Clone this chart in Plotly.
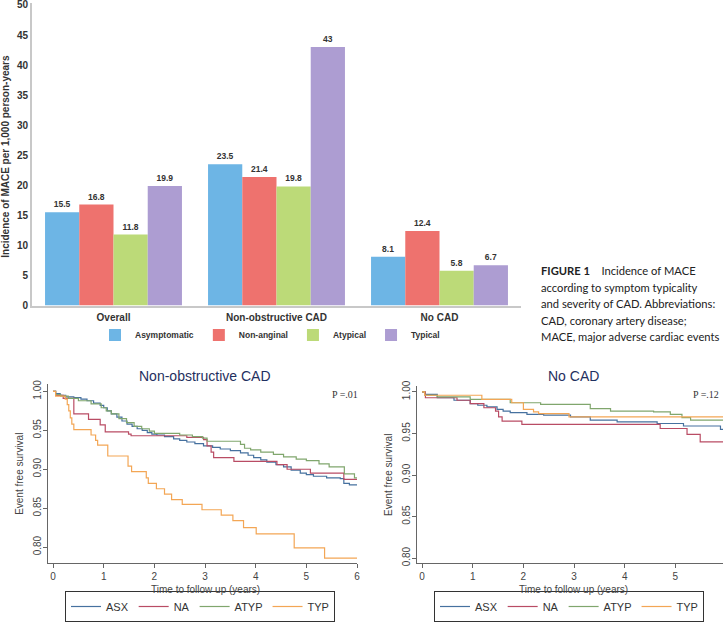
import plotly.graph_objects as go

W, H = 723, 622

# ---------------- Bar chart data ----------------
categories = ["Overall", "Non-obstructive CAD", "No CAD"]
symptom_groups = ["Asymptomatic", "Non-anginal", "Atypical", "Typical"]
asymptomatic = [15.5, 23.5, 8.1]
non_anginal = [16.8, 21.4, 12.4]
atypical = [11.8, 19.8, 5.8]
typical = [19.9, 43, 6.7]
bar_colors = ["#6db5e5", "#ee726e", "#bcda78", "#ad9dd2"]
y_ticks_bar = [0, 5, 10, 15, 20, 25, 30, 35, 40, 45, 50]

# ---------------- Kaplan-Meier data: Non-obstructive CAD ----------------
km_labels = ["ASX", "NA", "ATYP", "TYP"]
km_colors = ["#46719f", "#b94c64", "#80a66d", "#f3a655"]

nonobs_asx_t = [0, 0.05, 0.14, 0.25, 0.41, 0.55, 0.67, 0.8, 0.93, 1.0, 1.07, 1.15, 1.26, 1.36,
                1.46, 1.56, 1.66, 1.76, 1.86, 1.95, 2.05, 2.2, 2.38, 2.5, 2.64, 2.8, 2.97, 3.15,
                3.3, 3.5, 3.7, 3.85, 3.96, 4.1, 4.22, 4.4, 4.55, 4.7, 4.88, 5.0, 5.14, 5.4, 5.67,
                5.74, 5.85, 6.0]
nonobs_asx_s = [1.0, 0.997, 0.995, 0.993, 0.992, 0.990, 0.988, 0.985, 0.982, 0.979, 0.975, 0.971,
                0.967, 0.962, 0.958, 0.955, 0.952, 0.950, 0.947, 0.945, 0.944, 0.942, 0.939, 0.937,
                0.935, 0.933, 0.930, 0.928, 0.926, 0.924, 0.921, 0.918, 0.915, 0.912, 0.909, 0.906,
                0.903, 0.899, 0.895, 0.893, 0.891, 0.889, 0.888, 0.882, 0.880, 0.880]

nonobs_na_t = [0, 0.05, 0.2, 0.41, 0.70, 0.93, 1.03, 1.49, 1.54, 2.64, 2.97, 3.04, 3.12, 3.17,
               3.57, 4.42, 4.62, 5.08, 5.74, 6.0]
nonobs_na_s = [1.0, 0.995, 0.991, 0.971, 0.964, 0.957, 0.948, 0.945, 0.943, 0.941, 0.938, 0.930,
               0.922, 0.915, 0.910, 0.906, 0.900, 0.895, 0.887, 0.887]

nonobs_atyp_t = [0, 0.05, 0.15, 0.3, 0.5, 0.75, 0.95, 1.05, 1.15, 1.3, 1.45, 1.6, 1.75, 1.9, 2.0,
                 2.5, 2.75, 2.95, 3.04, 3.7, 3.78, 3.9, 4.1, 4.35, 4.55, 4.8, 5.0, 5.25, 5.45,
                 5.75, 5.95, 6.0]
nonobs_atyp_s = [1.0, 0.996, 0.994, 0.991, 0.988, 0.984, 0.979, 0.975, 0.971, 0.965, 0.960, 0.955,
                 0.952, 0.949, 0.946, 0.944, 0.942, 0.940, 0.936, 0.932, 0.927, 0.925, 0.922,
                 0.919, 0.916, 0.913, 0.911, 0.907, 0.903, 0.894, 0.889, 0.889]

nonobs_typ_t = [0, 0.05, 0.24, 0.28, 0.31, 0.34, 0.37, 0.41, 0.75, 0.84, 0.88, 1.08, 1.48, 1.55,
                1.84, 1.88, 2.04, 2.2, 2.34, 2.55, 2.94, 3.32, 3.55, 3.76, 4.01, 4.76, 5.36, 6.0]
nonobs_typ_s = [1.0, 0.994, 0.990, 0.983, 0.975, 0.966, 0.958, 0.951, 0.944, 0.937, 0.931, 0.917,
                0.904, 0.897, 0.889, 0.882, 0.875, 0.868, 0.861, 0.855, 0.848, 0.841, 0.834,
                0.825, 0.817, 0.799, 0.786, 0.786]

# ---------------- Kaplan-Meier data: No CAD ----------------
nocad_asx_t = [0, 0.05, 0.3, 0.63, 0.95, 1.1, 1.28, 1.48, 1.6, 1.74, 2.07, 2.4, 2.93, 3.32, 3.85,
               4.64, 5.16, 5.89, 6.0]
nocad_asx_s = [1.0, 0.997, 0.993, 0.990, 0.986, 0.984, 0.982, 0.979, 0.977, 0.975, 0.973, 0.972,
               0.970, 0.966, 0.964, 0.962, 0.959, 0.955, 0.955]

nocad_na_t = [0, 0.066, 0.69, 0.95, 1.22, 1.45, 1.51, 1.58, 1.97, 4.70, 5.23, 5.49, 6.0]
nocad_na_s = [1.0, 0.993, 0.990, 0.986, 0.981, 0.977, 0.970, 0.965, 0.961, 0.956, 0.949, 0.940, 0.940]

nocad_atyp_t = [0, 0.05, 0.3, 0.95, 1.74, 2.34, 3.32, 3.72, 4.57, 4.9, 5.13, 5.3, 6.0]
nocad_atyp_s = [1.0, 0.996, 0.994, 0.991, 0.987, 0.985, 0.980, 0.977, 0.976, 0.973, 0.969, 0.966, 0.966]

nocad_typ_t = [0, 0.05, 1.18, 1.77, 2.0, 2.2, 2.3, 2.9, 6.0]
nocad_typ_s = [1.0, 0.996, 0.991, 0.987, 0.979, 0.976, 0.974, 0.970, 0.970]

km_y_ticks = [0.80, 0.85, 0.90, 0.95, 1.00]
km_x_ticks = [0, 1, 2, 3, 4, 5, 6]

caption_lines = [
    "<b>FIGURE 1</b>\u00a0\u00a0\u00a0\u00a0Incidence of MACE",
    "according to symptom typicality",
    "and severity of CAD. Abbreviations:",
    "CAD, coronary artery disease;",
    "MACE, major adverse cardiac events",
]


def px_x(p):
    return p / W


def px_y(p):
    return 1 - p / H


fig = go.Figure()

# ---- bars ----
for name, vals, col in zip(symptom_groups, [asymptomatic, non_anginal, atypical, typical], bar_colors):
    fig.add_trace(go.Bar(
        x=categories, y=vals, name=name, marker=dict(color=col, line=dict(width=0)),
        text=vals, texttemplate="%{y}", textposition="outside", cliponaxis=False,
        textfont=dict(family="Arial", size=8.5, color="#333333", weight="bold"),
        xaxis="x", yaxis="y", legend="legend",
    ))

# ---- KM curves ----
left_series = [(nonobs_asx_t, nonobs_asx_s), (nonobs_na_t, nonobs_na_s),
               (nonobs_atyp_t, nonobs_atyp_s), (nonobs_typ_t, nonobs_typ_s)]
right_series = [(nocad_asx_t, nocad_asx_s), (nocad_na_t, nocad_na_s),
                (nocad_atyp_t, nocad_atyp_s), (nocad_typ_t, nocad_typ_s)]

for (t, s), name, col in zip(left_series, km_labels, km_colors):
    fig.add_trace(go.Scatter(x=t, y=s, mode="lines", name=name,
                             line=dict(color=col, width=1.2, shape="hv"),
                             xaxis="x2", yaxis="y2", legend="legend2"))
for (t, s), name, col in zip(right_series, km_labels, km_colors):
    fig.add_trace(go.Scatter(x=t, y=s, mode="lines", name=name,
                             line=dict(color=col, width=1.2, shape="hv"),
                             xaxis="x3", yaxis="y3", legend="legend3"))

tick_font_km = dict(family="Arial", size=10, color="#444444")
title_font_km = dict(family="Arial", size=10, color="#444444")

km_x_common = dict(tickvals=km_x_ticks, ticks="outside", ticklen=4, tickcolor="#666666",
                   showline=True, linecolor="#666666", linewidth=1, showgrid=False,
                   zeroline=False, tickfont=tick_font_km, automargin=False)
km_y_common = dict(tickvals=km_y_ticks, tickformat=".2f", ticks="outside", ticklen=4,
                   tickcolor="#666666", tickangle=-90, showline=True, linecolor="#666666",
                   linewidth=1, showgrid=False, zeroline=False, tickfont=tick_font_km,
                   automargin=False, ticklabelstandoff=-2,
                   title=dict(text="Event free survival", font=title_font_km, standoff=6))

fig.update_layout(
    width=W, height=H, autosize=False, template="none",
    margin=dict(l=0, r=0, t=0, b=0, pad=0),
    paper_bgcolor="white", plot_bgcolor="white",
    font=dict(family="Arial", color="#333333"),
    barmode="group", bargap=0.16, bargroupgap=0,
    xaxis=dict(domain=[px_x(32), px_x(521)], range=[-0.5, 2.5], showline=True,
               linecolor="#c8c8c8", linewidth=2, ticks="", showgrid=False, zeroline=False,
               tickfont=dict(family="Arial", size=10, color="#333333", weight="bold"),
               automargin=False, anchor="y", ticklabelstandoff=1),
    yaxis=dict(domain=[px_y(306), px_y(3)], range=[0, 50.33], tickvals=y_ticks_bar,
               showline=True, linecolor="#c8c8c8", linewidth=2, ticks="", showgrid=False,
               zeroline=False, tickfont=dict(family="Arial", size=10, color="#333333", weight="bold"),
               automargin=False, anchor="x", ticklabeloverflow="allow"),
    xaxis2=dict(domain=[px_x(48), px_x(357)], range=[-0.1, 6.0], anchor="y2", **km_x_common),
    yaxis2=dict(domain=[px_y(564), px_y(385)], range=[0.7795, 1.009], anchor="x2", **km_y_common),
    xaxis3=dict(domain=[px_x(417), 1.0], range=[-0.1, 5.94], anchor="y3", **km_x_common),
    yaxis3=dict(domain=[px_y(564), px_y(387)], range=[0.794, 1.0067], anchor="x3", **km_y_common),
    legend=dict(orientation="h", x=px_x(270), xanchor="center", y=px_y(335), yanchor="middle",
                font=dict(family="Arial", size=8.5, color="#333333", weight="bold"),
                bgcolor="rgba(0,0,0,0)", itemwidth=30),
    legend2=dict(orientation="h", x=px_x(65), xanchor="left", y=px_y(607), yanchor="middle",
                 font=dict(family="Arial", size=11, color="#333333"), bordercolor="#333333",
                 borderwidth=1, bgcolor="white", itemwidth=30),
    legend3=dict(orientation="h", x=px_x(434), xanchor="left", y=px_y(607), yanchor="middle",
                 font=dict(family="Arial", size=11, color="#333333"), bordercolor="#333333",
                 borderwidth=1, bgcolor="white", itemwidth=30),
    showlegend=True,
)

annotations = [
    dict(text="<b>Incidence of MACE per 1,000 person-years</b>", x=px_x(6), y=px_y(157),
         xref="paper", yref="paper", textangle=-90, showarrow=False, xanchor="center",
         yanchor="middle", font=dict(family="Arial", size=10, color="#333333")),
    dict(text="Non-obstructive CAD", x=px_x(205), y=px_y(377), xref="paper", yref="paper",
         showarrow=False, xanchor="center", yanchor="middle",
         font=dict(family="Arial", size=14, color="#1f3060")),
    dict(text="No CAD", x=px_x(573), y=px_y(377), xref="paper", yref="paper",
         showarrow=False, xanchor="center", yanchor="middle",
         font=dict(family="Arial", size=14, color="#1f3060")),
    dict(text="Time to follow up (years)", x=px_x(205), y=px_y(590), xref="paper", yref="paper",
         showarrow=False, xanchor="center", yanchor="middle", font=title_font_km),
    dict(text="Time to follow up (years)", x=px_x(573), y=px_y(590), xref="paper", yref="paper",
         showarrow=False, xanchor="center", yanchor="middle", font=title_font_km),
    dict(text="P =.01", x=px_x(360), y=px_y(395), xref="paper", yref="paper",
         showarrow=False, xanchor="right", yanchor="middle",
         font=dict(family="Liberation Serif", size=10, color="#333333")),
    dict(text="P =.12", x=px_x(721), y=px_y(395), xref="paper", yref="paper",
         showarrow=False, xanchor="right", yanchor="middle",
         font=dict(family="Liberation Serif", size=10, color="#333333")),
]
for line, yy in zip(caption_lines, [271, 288, 304, 321, 337]):
    annotations.append(dict(text=line, x=px_x(539), y=px_y(yy), xref="paper", yref="paper",
                            showarrow=False, xanchor="left", yanchor="middle",
                            font=dict(family="Lato", size=11.2, color="#222222")))
fig.update_layout(annotations=annotations)

fig.write_html("out.html")
